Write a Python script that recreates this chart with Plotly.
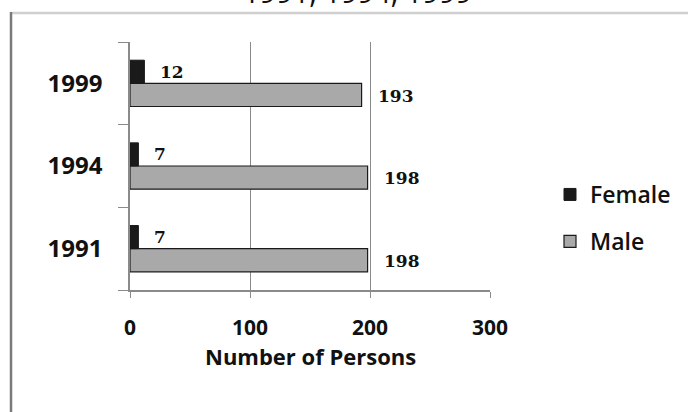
import plotly.graph_objects as go

years = ["1991", "1994", "1999"]
female = [7, 7, 12]
male = [198, 198, 193]
x_ticks = [0, 100, 200, 300]
title_text = "1991, 1994, 1999"
x_title = "Number of Persons"

W, H = 688, 412
L, R, T, B = 130, 198, 42, 122
pw, ph = W - L - R, H - T - B

def px(xp):
    return (xp - L) / pw

def py(yp):
    return (H - B - yp) / ph

fig = go.Figure()
fig.add_trace(go.Bar(
    y=years, x=male, name="Male", orientation="h",
    marker=dict(color="#a9a9a9", line=dict(color="#1a1a1a", width=1.2)),
    legendgroup="m", legendrank=2,
))
fig.add_trace(go.Bar(
    y=years, x=female, name="Female", orientation="h",
    marker=dict(color="#1a1a1a", line=dict(color="#1a1a1a", width=1)),
    legendgroup="f", legendrank=1,
))

annotations = []
for i, y in enumerate(years):
    for val, off in ((male[i], -0.15), (female[i], 0.14)):
        annotations.append(dict(
            x=val, y=i + off, xref="x", yref="y", text=f"<b>{val}</b>",
            showarrow=False, xanchor="left", yanchor="middle", xshift=14,
            font=dict(family="DejaVu Serif", size=17, color="#111"),
        ))

annotations.append(dict(
    x=px(357), y=py(-8), xref="paper", yref="paper", text=title_text,
    showarrow=False, xanchor="center", yanchor="middle",
    font=dict(family="Open Sans", size=29, color="#111"),
))
annotations.append(dict(
    x=0.5, y=py(356), xref="paper", yref="paper", text=f"<b>{x_title}</b>",
    showarrow=False, xanchor="center", yanchor="middle",
    font=dict(family="Open Sans", size=22, color="#111"),
))

shapes = [
    dict(type="line", xref="paper", yref="paper", x0=px(11), x1=px(700),
         y0=py(13), y1=py(13), line=dict(color="#cfcfcf", width=2.5)),
    dict(type="line", xref="paper", yref="paper", x0=px(11), x1=px(11),
         y0=py(12), y1=py(415), line=dict(color="#7a7a7a", width=2.5)),
]

fig.update_layout(
    width=W, height=H,
    margin=dict(l=L, r=R, t=T, b=B),
    paper_bgcolor="white", plot_bgcolor="white",
    barmode="group", bargap=0.44, bargroupgap=0,
    showlegend=True,
    legend=dict(
        x=px(550), y=py(218), xanchor="left", yanchor="middle",
        traceorder="grouped", tracegroupgap=14,
        font=dict(family="Open Sans", size=23, color="#111", weight=600),
        bgcolor="rgba(0,0,0,0)", itemwidth=30,
    ),
    annotations=annotations,
    shapes=shapes,
    xaxis=dict(
        range=[0, 300], tickvals=x_ticks, ticktext=[str(v) for v in x_ticks],
        showgrid=True, gridcolor="#8a8a8a", gridwidth=1,
        showline=True, linecolor="#8a8a8a", linewidth=1.5,
        ticks="outside", ticklen=6, tickcolor="#8a8a8a",
        ticklabelstandoff=12,
        tickfont=dict(family="Open Sans", size=21, color="#111", weight=700),
        zeroline=False, fixedrange=True,
    ),
    yaxis=dict(
        type="category", categoryorder="array", categoryarray=years,
        range=[-0.5, 2.5],
        showline=True, linecolor="#8a8a8a", linewidth=1.5,
        ticks="outside", ticklen=10, tickcolor="#8a8a8a", tickson="boundaries",
        ticklabelstandoff=21,
        tickfont=dict(family="Open Sans", size=24, color="#111", weight=700),
        showgrid=False, zeroline=False, fixedrange=True,
    ),
)

fig.write_html("out.html", config={"displayModeBar": False},
               post_script="document.body.style.margin='0';")
